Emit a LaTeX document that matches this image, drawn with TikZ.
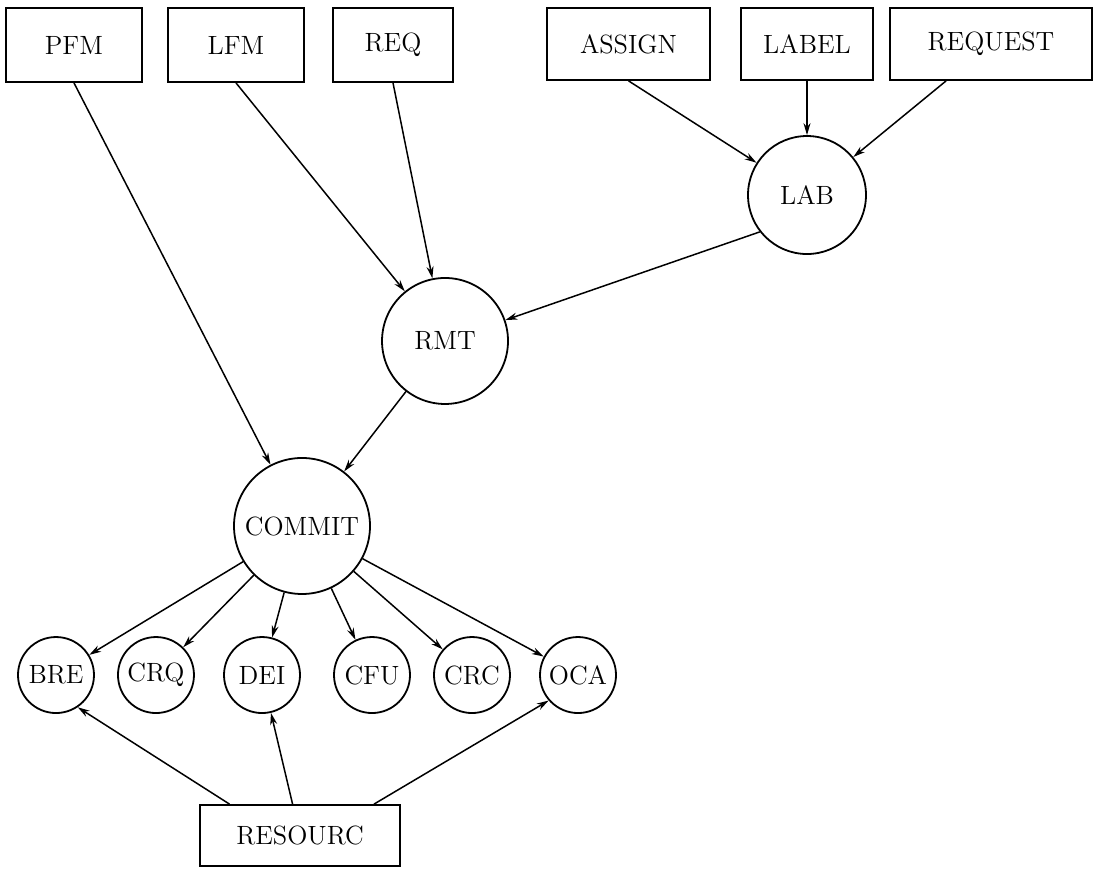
\documentclass[tikz,border=0pt]{standalone}
\usepackage{fontspec}
\usetikzlibrary{arrows.meta}
\pgfdeclarelayer{edgelayer}
\pgfdeclarelayer{nodelayer}
\pgfsetlayers{edgelayer,nodelayer,main}
\tikzstyle{box}=[rectangle, fill=white, draw=black, line width=0.9pt, minimum height=37pt, font=\fontsize{13.2}{15}\selectfont]
\tikzstyle{proc}=[circle, fill=white, draw=black, line width=0.9pt, inner sep=0pt, font=\fontsize{13.2}{15}\selectfont]
\tikzstyle{arrow}=[draw=black, line width=0.75pt, -{Stealth[length=6pt, width=3.5pt]}]

\begin{document}
\begin{tikzpicture}
			\useasboundingbox (0, 0) rectangle (19.242, 15.271);
			\begin{pgfonlayer}{nodelayer}
			\node [style=box, minimum width=68pt] (0) at (1.300, 14.480) {PFM};
			\node [style=box, minimum width=68pt] (1) at (4.147, 14.480) {LFM};
			\node [style=box, minimum width=60pt] (2) at (6.906, 14.480) {REQ};
			\node [style=box, minimum width=81.5pt, minimum height=36pt] (3) at (11.045, 14.498) {ASSIGN};
			\node [style=box, minimum width=66pt, minimum height=36pt] (4) at (14.181, 14.498) {LABEL};
			\node [style=box, minimum width=101pt, minimum height=36pt] (5) at (17.415, 14.498) {REQUEST};
			\node [style=proc, minimum size=59pt] (6) at (14.181, 11.844) {LAB};
			\node [style=proc, minimum size=63pt] (7) at (7.820, 9.279) {RMT};
			\node [style=proc, minimum size=68pt] (8) at (5.307, 6.028) {COMMIT};
			\node [style=proc, minimum size=38pt] (9) at (0.984, 3.409) {BRE};
			\node [style=proc, minimum size=38pt] (10) at (2.741, 3.409) {CRQ};
			\node [style=proc, minimum size=38pt] (11) at (4.604, 3.409) {DEI};
			\node [style=proc, minimum size=38pt] (12) at (6.537, 3.409) {CFU};
			\node [style=proc, minimum size=38pt] (13) at (8.294, 3.409) {CRC};
			\node [style=proc, minimum size=38pt] (14) at (10.157, 3.409) {OCA};
			\node [style=box, minimum width=100pt, minimum height=30.5pt] (15) at (5.272, 0.589) {RESOURC};
			\end{pgfonlayer}
			\begin{pgfonlayer}{edgelayer}
			\draw [style=arrow] (0.south) to (8);
			\draw [style=arrow] (1.south) to (7);
			\draw [style=arrow] (2.south) to (7);
			\draw [style=arrow] (3.south) to (6);
			\draw [style=arrow] (4) to (6);
			\draw [style=arrow] (5) to (6);
			\draw [style=arrow] (6.218) to (7);
			\draw [style=arrow] (7) to (8);
			\draw [style=arrow] (8) to (9);
			\draw [style=arrow] (8) to (10);
			\draw [style=arrow] (8) to (11);
			\draw [style=arrow] (8) to (12);
			\draw [style=arrow] (8) to (13);
			\draw [style=arrow] (8) to (14);
			\draw [style=arrow] (15.156) to (9.-56);
			\draw [style=arrow] (15) to (11);
			\draw [style=arrow] (15.23) to (14.-139);
			\end{pgfonlayer}
\end{tikzpicture}
\end{document}
